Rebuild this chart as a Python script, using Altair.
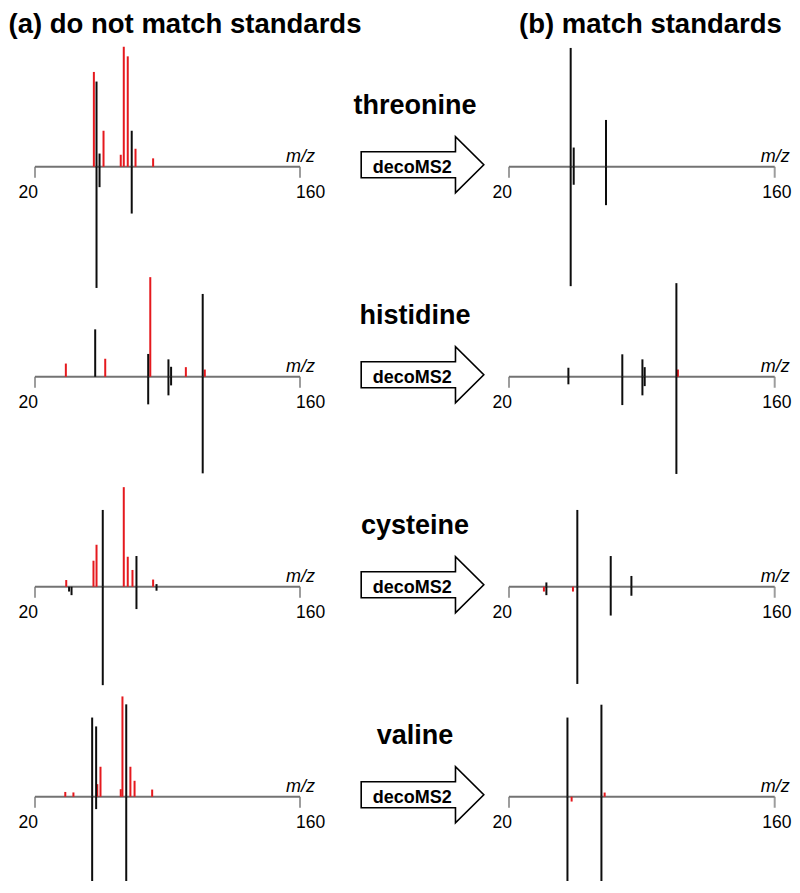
import altair as alt
import pandas as pd

# ---------------- text ----------------
COMPOUNDS = ["threonine", "histidine", "cysteine", "valine"]
TITLES = ["(a) do not match standards", "(b) match standards"]
ARROW_LABEL = "decoMS2"
TICKS = [20, 160]
AXIS_TITLE = "m/z"

# ---------------- data (m/z, signed relative intensity, peak kind) ----------------
# kind "u" = red (unmatched) peak, "m" = black peak; negative intensity = standard (mirrored)
thr_a_mz = [51.1, 56.2, 65.3, 66.9, 69.0, 73.1, 82.4, 52.5, 54.1, 71.1, 52.5, 54.1, 71.1]
thr_a_int = [79, 30, 10, 100, 92, 15, 7, 71, 11, 30, -101, -17, -39]
thr_a_kind = ["u", "u", "u", "u", "u", "u", "u", "m", "m", "m", "m", "m", "m"]

thr_b_mz = [52.5, 54.1, 71.1, 52.5, 54.1, 71.1]
thr_b_int = [99, 16, 39, -99.5, -15, -32]
thr_b_kind = ["m", "m", "m", "m", "m", "m"]

his_a_mz = [36.3, 57.1, 80.9, 99.7, 109.7, 51.8, 79.8, 90.5, 91.9, 108.6, 79.8, 90.5, 91.9, 108.6]
his_a_int = [11, 15, 83, 8, 6, 39.5, 19, 14.5, 8.3, 69, -23, -15.5, -7.2, -80.5]
his_a_kind = ["u", "u", "u", "u", "u", "m", "m", "m", "m", "m", "m", "m", "m", "m"]

his_b_mz = [109.0, 51.3, 79.7, 90.3, 91.5, 108.2, 51.3, 79.7, 90.3, 91.5, 108.2]
his_b_int = [6, 7.5, 18.7, 14.5, 8, 78, -6.3, -23.6, -15.5, -7.8, -81]
his_b_kind = ["u", "m", "m", "m", "m", "m", "m", "m", "m", "m", "m"]

cys_a_mz = [36.5, 50.9, 52.5, 66.9, 69.0, 71.5, 82.4, 55.8, 73.6, 84.2, 38.0, 39.3, 55.8, 73.6, 84.2]
cys_a_int = [5.6, 21.7, 35, 83, 25, 14, 6, 64, 25.6, 2.2, -4, -7, -82, -18.6, -3.3]
cys_a_kind = ["u", "u", "u", "u", "u", "u", "u", "m", "m", "m", "m", "m", "m", "m", "m"]

cys_b_mz = [38.4, 53.7, 39.7, 56.0, 73.6, 84.5, 39.7, 56.0, 73.6, 84.5]
cys_b_int = [-4, -4, 3.6, 64, 25.6, 9, -7, -81, -24, -7.5]
cys_b_kind = ["u", "u", "m", "m", "m", "m", "m", "m", "m", "m"]

val_a_mz = [36.0, 40.3, 52.9, 54.6, 65.3, 66.2, 70.4, 72.6, 81.9, 50.2, 52.3, 68.2, 50.2, 52.3, 68.2]
val_a_int = [4, 3.6, 10.5, 25, 6.3, 83.6, 25, 13.3, 6, 66, 58.6, 77, -72, -10.3, -80.6]
val_a_kind = ["u", "u", "u", "u", "u", "u", "u", "u", "u", "m", "m", "m", "m", "m", "m"]

val_b_mz = [53.0, 70.4, 50.8, 68.7, 50.8, 68.7]
val_b_int = [-4, 3.5, 66, 76.7, -72, -81]
val_b_kind = ["u", "u", "m", "m", "m", "m"]

PANELS_A = [(thr_a_mz, thr_a_int, thr_a_kind), (his_a_mz, his_a_int, his_a_kind),
            (cys_a_mz, cys_a_int, cys_a_kind), (val_a_mz, val_a_int, val_a_kind)]
PANELS_B = [(thr_b_mz, thr_b_int, thr_b_kind), (his_b_mz, his_b_int, his_b_kind),
            (cys_b_mz, cys_b_int, cys_b_kind), (val_b_mz, val_b_int, val_b_kind)]

# ---------------- style ----------------
FONT = "Liberation Sans"
RED = "#e5191e"
BLACK = "#0d0d0d"
GRAY = "#737373"
W_L = 265
W_MID = 208.8
W_R = 265.7
H = 209.5
HALF = H / 2
PX_PER_UNIT = 1.2
YMAX = HALF / PX_PER_UNIT
ARROW_PATH = "M-1,-0.212L0.538,-0.212L0.538,-0.457L1,0L0.538,0.457L0.538,0.212L-1,0.212Z"
ARROW_SIZE = 122.6 ** 2


def spectrum(panel, width, title=None, title_dx=0.0, last_dx=-4):
    mz, inten, kind = panel
    df = pd.DataFrame({"mz": mz, "intensity": inten, "kind": kind})
    xs = alt.Scale(domain=[TICKS[0], TICKS[-1]], nice=False, zero=False)
    ys = alt.Scale(domain=[-YMAX, YMAX], nice=False, zero=False)

    axis_df = pd.DataFrame({"lo": [TICKS[0]], "hi": [TICKS[-1]]})
    axis_line = alt.Chart(axis_df).mark_rule(color=GRAY, strokeWidth=2).encode(
        x=alt.X("lo:Q", scale=xs, axis=None), x2="hi:Q",
        y=alt.YDatum(0, scale=ys, axis=None))

    tick_df = pd.DataFrame({"tick": TICKS, "label": [str(t) for t in TICKS]})
    ticks = alt.Chart(tick_df).mark_tick(orient="vertical", size=11, thickness=2,
                                         color=GRAY, yOffset=5.5).encode(
        x=alt.X("tick:Q", scale=xs, axis=None), y=alt.YDatum(0, scale=ys, axis=None))
    lab_first = alt.Chart(tick_df.iloc[[0]]).mark_text(
        align="right", baseline="alphabetic", dx=3, dy=31, fontSize=17.5, color="black").encode(
        x=alt.X("tick:Q", scale=xs, axis=None), y=alt.YDatum(0, scale=ys, axis=None), text="label:N")
    lab_last = alt.Chart(tick_df.iloc[[-1]]).mark_text(
        align="left", baseline="alphabetic", dx=last_dx, dy=31, fontSize=17.5, color="black").encode(
        x=alt.X("tick:Q", scale=xs, axis=None), y=alt.YDatum(0, scale=ys, axis=None), text="label:N")
    mz_df = pd.DataFrame({"tick": [TICKS[-1]], "label": [AXIS_TITLE]})
    mz_lab = alt.Chart(mz_df).mark_text(
        align="right", baseline="alphabetic", dx=15, dy=-5, fontSize=18,
        fontStyle="italic", color="black").encode(
        x=alt.X("tick:Q", scale=xs, axis=None), y=alt.YDatum(0, scale=ys, axis=None), text="label:N")

    peaks = alt.Chart(df).mark_rule(strokeWidth=2).encode(
        x=alt.X("mz:Q", scale=xs, axis=None),
        y=alt.Y("intensity:Q", scale=ys, axis=None),
        y2=alt.datum(0),
        color=alt.Color("kind:N", scale=alt.Scale(domain=["u", "m"], range=[RED, BLACK]), legend=None))

    layers = [axis_line, ticks, lab_first, lab_last, mz_lab, peaks]
    if title is not None:
        t = alt.Chart(pd.DataFrame({"t": [title]})).mark_text(
            align="left", baseline="alphabetic", fontSize=27.5, fontWeight="bold", color="black").encode(
            x=alt.value(title_dx), y=alt.value(-29), text="t:N")
        layers.append(t)
    return alt.layer(*layers).properties(width=width, height=H)


def middle(name):
    df = pd.DataFrame({"name": [name], "label": [ARROW_LABEL]})
    base = alt.Chart(df)
    arrow = base.mark_point(shape=ARROW_PATH, size=ARROW_SIZE, filled=True, fill="white",
                            stroke="black", strokeWidth=1.6, opacity=1).encode(
        x=alt.value(122.5), y=alt.value(HALF - 2))
    name_t = base.mark_text(fontSize=27, fontWeight="bold", align="center",
                            baseline="alphabetic", color="black").encode(
        x=alt.value(115), y=alt.value(HALF - 53), text="name:N")
    lab = base.mark_text(fontSize=18, fontWeight="bold", align="center",
                         baseline="alphabetic", color="black").encode(
        x=alt.value(112.2), y=alt.value(HALF + 6), text="label:N")
    return alt.layer(arrow, name_t, lab).properties(width=W_MID, height=H)


cells = []
for i, name in enumerate(COMPOUNDS):
    if i == 0:
        cells.append(spectrum(PANELS_A[i], W_L, TITLES[0], -26.5))
        cells.append(middle(name))
        cells.append(spectrum(PANELS_B[i], W_R, TITLES[1], 10, last_dx=-12.5))
    else:
        cells.append(spectrum(PANELS_A[i], W_L))
        cells.append(middle(name))
        cells.append(spectrum(PANELS_B[i], W_R, last_dx=-12.5))

chart = alt.concat(*cells, columns=3, spacing=0, bounds="flush", align="each").properties(
    padding={"left": 0, "right": 0, "top": 3, "bottom": -21}
).configure_view(stroke=None).configure_text(font=FONT)

chart.save("out.html", embed_options={"renderer": "svg", "actions": False})
